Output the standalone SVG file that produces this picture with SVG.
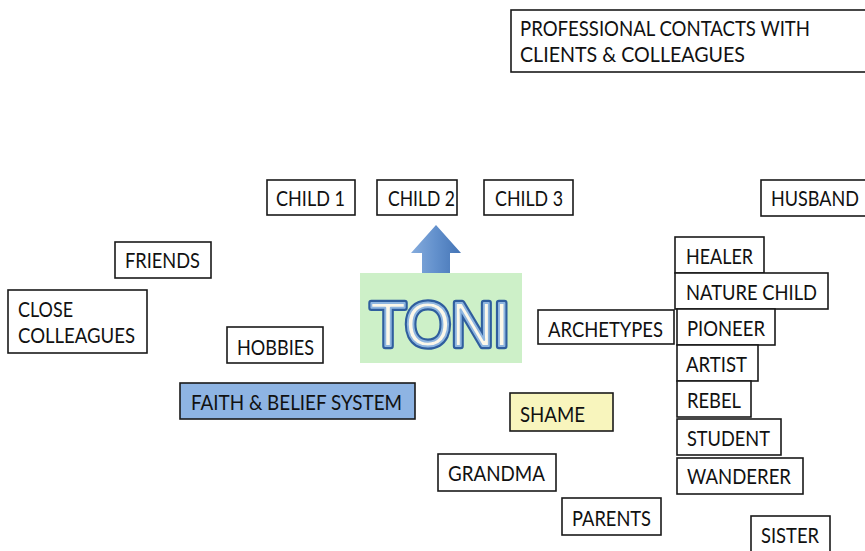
<svg xmlns="http://www.w3.org/2000/svg" width="865" height="551" viewBox="0 0 865 551">
<style>
.box{fill:#ffffff;stroke:#1a1a1a;stroke-width:1.6}
.lbl{font-family:Lato,"Open Sans","Liberation Sans",sans-serif;font-size:20.5px;fill:#111111}
.toni{font-family:"Liberation Sans",Arial,sans-serif;font-size:63px;font-weight:normal}
</style>
<defs>
<linearGradient id="arrowGrad" x1="0" y1="0" x2="1" y2="0">
<stop offset="0" stop-color="#86acdd"/>
<stop offset="0.5" stop-color="#6290cc"/>
<stop offset="1" stop-color="#4474b5"/>
</linearGradient>
</defs>
<rect width="865" height="551" fill="#ffffff"/>

<g id="connectors"></g>

<g id="professional"><rect class="box" x="511" y="10" width="356" height="62"/>
<text class="lbl" x="520" y="36" textLength="290" lengthAdjust="spacingAndGlyphs">PROFESSIONAL CONTACTS WITH</text>
<text class="lbl" x="520" y="62" textLength="225" lengthAdjust="spacingAndGlyphs">CLIENTS &amp; COLLEAGUES</text></g>

<g id="child1"><rect class="box" x="267" y="180" width="88" height="35"/>
<text class="lbl" x="276" y="206" textLength="69" lengthAdjust="spacingAndGlyphs">CHILD 1</text></g>
<g id="child2"><rect class="box" x="377" y="180" width="80" height="35"/>
<text class="lbl" x="388" y="206" textLength="67" lengthAdjust="spacingAndGlyphs">CHILD 2</text></g>
<g id="child3"><rect class="box" x="484" y="180" width="89" height="35"/>
<text class="lbl" x="495" y="206" textLength="68" lengthAdjust="spacingAndGlyphs">CHILD 3</text></g>

<g id="husband"><rect class="box" x="761" y="180" width="106" height="36"/>
<text class="lbl" x="771" y="206" textLength="88" lengthAdjust="spacingAndGlyphs">HUSBAND</text></g>

<g id="friends"><rect class="box" x="115" y="242" width="96" height="36"/>
<text class="lbl" x="125" y="268" textLength="75" lengthAdjust="spacingAndGlyphs">FRIENDS</text></g>

<g id="close-colleagues"><rect class="box" x="8" y="290" width="139" height="63"/>
<text class="lbl" x="18" y="317" textLength="55" lengthAdjust="spacingAndGlyphs">CLOSE</text>
<text class="lbl" x="18" y="343" textLength="117" lengthAdjust="spacingAndGlyphs">COLLEAGUES</text></g>

<g id="hobbies"><rect class="box" x="227" y="327" width="96" height="36"/>
<text class="lbl" x="237" y="355" textLength="77" lengthAdjust="spacingAndGlyphs">HOBBIES</text></g>

<g id="faith"><rect x="180" y="383" width="235" height="36" fill="#8eb4e3" stroke="#1a1a1a" stroke-width="1.6"/>
<text class="lbl" x="191" y="410" textLength="211" lengthAdjust="spacingAndGlyphs">FAITH &amp; BELIEF SYSTEM</text></g>

<g id="toni">
<path d="M422 274 L422 253 L411 253 L436 225 L461 253 L450 253 L450 274 Z" fill="url(#arrowGrad)"/>
<rect x="360" y="273" width="162" height="90" fill="#cdf0c8"/>
<text class="toni" x="370" y="346" textLength="140" lengthAdjust="spacingAndGlyphs" fill="none" stroke="#2f5e9e" stroke-width="6.5" stroke-linejoin="round">TONI</text>
<text class="toni" x="370" y="346" textLength="140" lengthAdjust="spacingAndGlyphs" fill="#fcf8ea" stroke="#8fb6e0" stroke-width="2" stroke-linejoin="round">TONI</text>
</g>

<g id="archetypes"><rect class="box" x="538" y="310" width="136" height="34"/>
<text class="lbl" x="548" y="337" textLength="115" lengthAdjust="spacingAndGlyphs">ARCHETYPES</text></g>

<g id="shame"><rect x="510" y="393" width="103" height="38" fill="#f8f5bd" stroke="#1a1a1a" stroke-width="1.6"/>
<text class="lbl" x="520" y="422" textLength="65" lengthAdjust="spacingAndGlyphs">SHAME</text></g>

<g id="grandma"><rect class="box" x="438" y="454" width="118" height="37"/>
<text class="lbl" x="448" y="481" textLength="97" lengthAdjust="spacingAndGlyphs">GRANDMA</text></g>

<g id="parents"><rect class="box" x="562" y="498" width="99" height="37"/>
<text class="lbl" x="572" y="526" textLength="79" lengthAdjust="spacingAndGlyphs">PARENTS</text></g>

<g id="healer"><rect class="box" x="675" y="237" width="89" height="36"/>
<text class="lbl" x="686" y="264" textLength="67" lengthAdjust="spacingAndGlyphs">HEALER</text></g>
<g id="nature-child"><rect class="box" x="675" y="273" width="153" height="36"/>
<text class="lbl" x="686" y="300" textLength="131" lengthAdjust="spacingAndGlyphs">NATURE CHILD</text></g>
<g id="pioneer"><rect class="box" x="677" y="309" width="98" height="36"/>
<text class="lbl" x="687" y="336" textLength="78" lengthAdjust="spacingAndGlyphs">PIONEER</text></g>
<g id="artist"><rect class="box" x="677" y="345" width="81" height="36"/>
<text class="lbl" x="686" y="372" textLength="61" lengthAdjust="spacingAndGlyphs">ARTIST</text></g>
<g id="rebel"><rect class="box" x="677" y="381" width="74" height="36"/>
<text class="lbl" x="687" y="408" textLength="54" lengthAdjust="spacingAndGlyphs">REBEL</text></g>
<g id="student"><rect class="box" x="677" y="419" width="104" height="36"/>
<text class="lbl" x="687" y="446" textLength="83" lengthAdjust="spacingAndGlyphs">STUDENT</text></g>
<g id="wanderer"><rect class="box" x="677" y="458" width="126" height="36"/>
<text class="lbl" x="687" y="484" textLength="104" lengthAdjust="spacingAndGlyphs">WANDERER</text></g>
<g id="sister"><rect class="box" x="751" y="516" width="79" height="40"/>
<text class="lbl" x="761" y="543" textLength="58" lengthAdjust="spacingAndGlyphs">SISTER</text></g>
</svg>
